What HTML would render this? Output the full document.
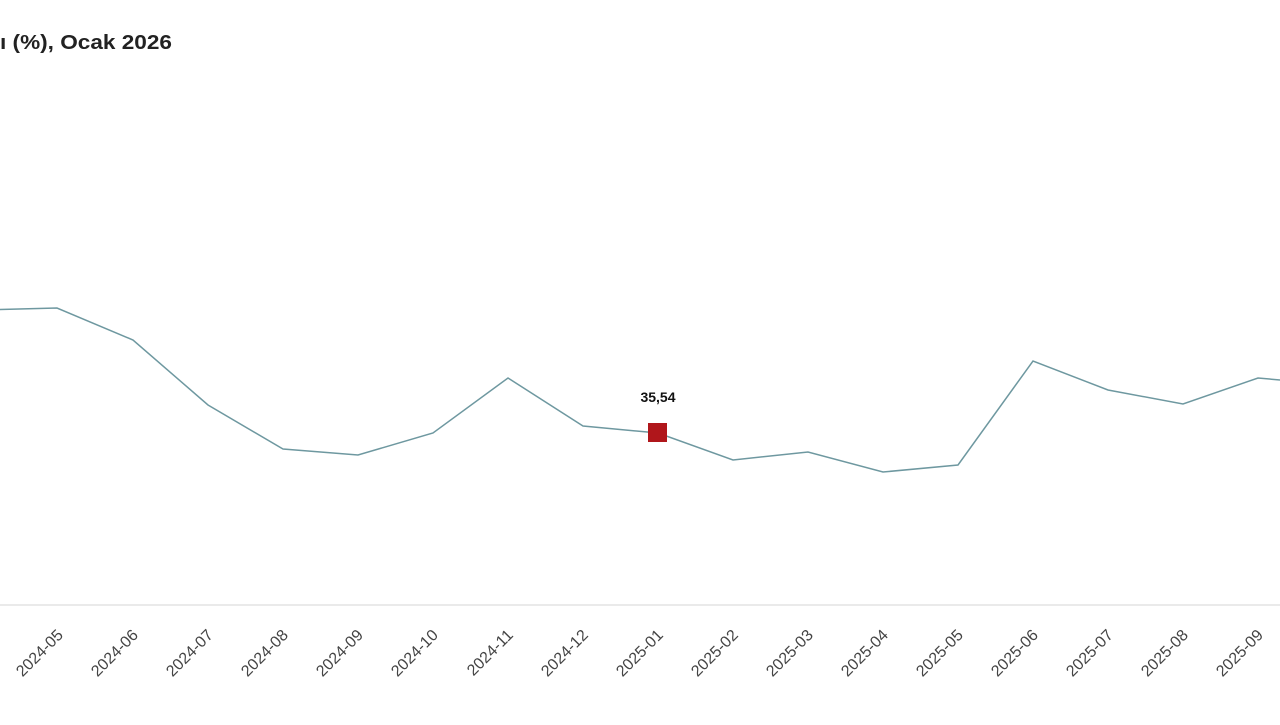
<!DOCTYPE html>
<html><head><style>body{margin:0;background:#fff}</style></head><body>
<svg width="1280" height="720" xmlns="http://www.w3.org/2000/svg" font-family="Liberation Sans, sans-serif">
<text x="0" y="49" font-size="20" font-weight="bold" fill="#222" textLength="172" lengthAdjust="spacingAndGlyphs">ı (%), Ocak 2026</text>
<line x1="0" y1="605" x2="1280" y2="605" stroke="#e3e3e3" stroke-width="1.5"/>
<polyline fill="none" stroke="#6e98a0" stroke-width="1.5" points="-18,310 57,308 133,340 208,405 283,449 358,455 433,433 508,378 583,426 658,433 733,460 808,452 883,472 958,465 1033,361 1108,390 1183,404 1258,378 1280,380"/>
<rect x="648" y="423" width="19" height="19" fill="#b0161b"/>
<text x="658" y="402" font-size="14" font-weight="bold" text-anchor="middle" fill="#111">35,54</text>
<g font-size="16" fill="#444" text-anchor="end">
<text transform="translate(64,636) rotate(-45)">2024-05</text>
<text transform="translate(139,636) rotate(-45)">2024-06</text>
<text transform="translate(214,636) rotate(-45)">2024-07</text>
<text transform="translate(289,636) rotate(-45)">2024-08</text>
<text transform="translate(364,636) rotate(-45)">2024-09</text>
<text transform="translate(439,636) rotate(-45)">2024-10</text>
<text transform="translate(514,636) rotate(-45)">2024-11</text>
<text transform="translate(589,636) rotate(-45)">2024-12</text>
<text transform="translate(664,636) rotate(-45)">2025-01</text>
<text transform="translate(739,636) rotate(-45)">2025-02</text>
<text transform="translate(814,636) rotate(-45)">2025-03</text>
<text transform="translate(889,636) rotate(-45)">2025-04</text>
<text transform="translate(964,636) rotate(-45)">2025-05</text>
<text transform="translate(1039,636) rotate(-45)">2025-06</text>
<text transform="translate(1114,636) rotate(-45)">2025-07</text>
<text transform="translate(1189,636) rotate(-45)">2025-08</text>
<text transform="translate(1264,636) rotate(-45)">2025-09</text>
</g>
</svg>
</body></html>
